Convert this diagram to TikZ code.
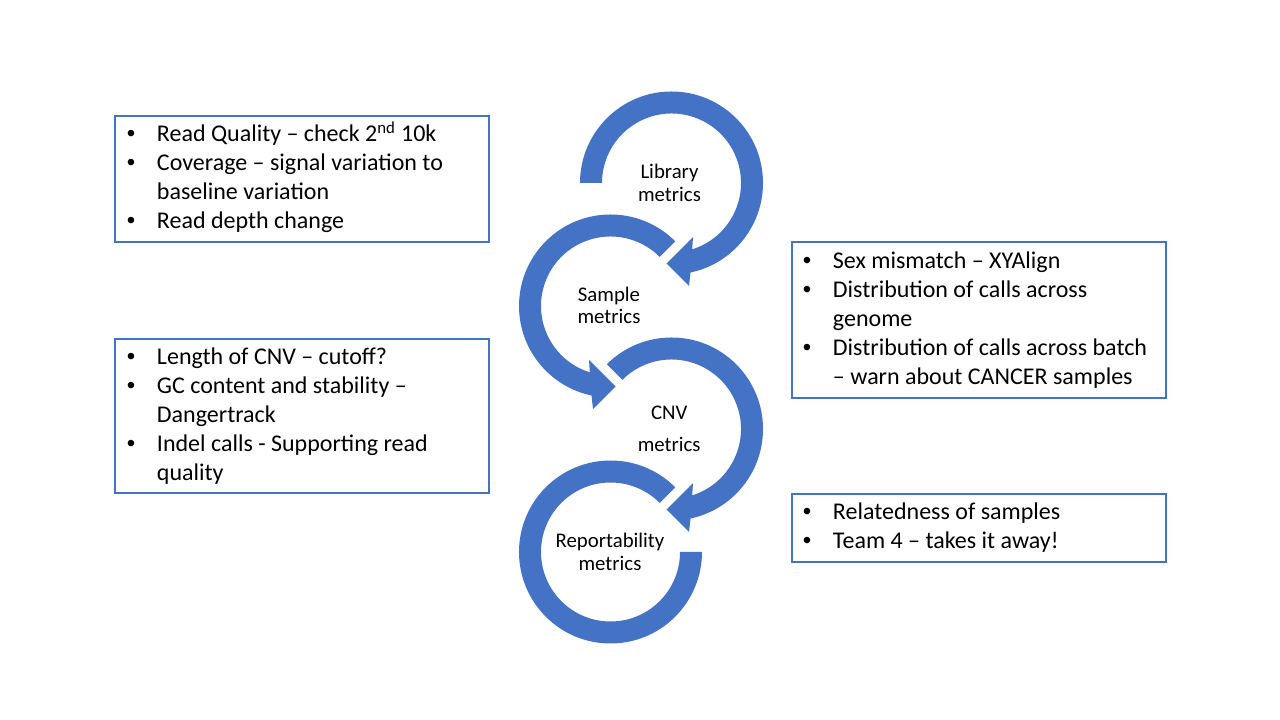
\documentclass[tikz,border=0pt]{standalone}
\usepackage{fontspec}
\setmainfont{Carlito}
\newfontfamily\bulletfont{Liberation Sans}
\definecolor{accent}{HTML}{4472C4}
\newcommand{\bul}{\makebox[0pt][c]{\bulletfont •}\hspace{19.5pt}}
\newcommand{\cont}{\hspace{19.5pt}}
\begin{document}
\begin{tikzpicture}[x=0.75pt,y=0.75pt,
  panel/.style={draw=accent, line width=1.5pt, fill=white, rectangle, inner sep=0pt},
  bodytext/.style={anchor=base west, inner sep=0pt, font=\fontsize{18}{21.75}\selectfont},
  ringlabel/.style={anchor=base, inner sep=0pt, align=center, font=\fontsize{15.6}{17}\selectfont},
  ring/.style={fill=accent}]
\useasboundingbox (0,0) rectangle (1280,720);
\fill[white] (0,0) rectangle (1280,720);

% ring centres
\coordinate (c1) at (671.5,537);
\coordinate (c2) at (610.5,414);
\coordinate (c3) at (671.5,291);
\coordinate (c4) at (610.5,168);

% arrow 1: Library metrics
\fill[ring] ([shift={(180:91.5)}]c1) arc[start angle=180, end angle=-78, radius=91.5]
  -- ([shift={(17.5,-103)}]c1) -- ([shift={(-5,-80.5)}]c1) -- ([shift={(21.5,-54)}]c1)
  -- ([shift={(-72.7:69.5)}]c1) arc[start angle=-72.7, end angle=180, radius=69.5] -- cycle;
% arrow 2: Sample metrics
\fill[ring] ([shift={(45:91.5)}]c2) arc[start angle=45, end angle=258, radius=91.5]
  -- ([shift={(-17.5,-103)}]c2) -- ([shift={(5,-80.5)}]c2) -- ([shift={(-21.5,-54)}]c2)
  -- ([shift={(252.7:69.5)}]c2) arc[start angle=252.7, end angle=45, radius=69.5] -- cycle;
% arrow 3: CNV metrics
\fill[ring] ([shift={(135:91.5)}]c3) arc[start angle=135, end angle=-78, radius=91.5]
  -- ([shift={(17.5,-103)}]c3) -- ([shift={(-5,-80.5)}]c3) -- ([shift={(21.5,-54)}]c3)
  -- ([shift={(-72.7:69.5)}]c3) arc[start angle=-72.7, end angle=135, radius=69.5] -- cycle;
% arrow 4: Reportability metrics
\fill[ring] ([shift={(45:91.5)}]c4) arc[start angle=45, end angle=360, radius=91.5]
  -- ([shift={(0:69.5)}]c4) arc[start angle=360, end angle=45, radius=69.5] -- cycle;

% ring labels
\node[ringlabel] (lib) at (669.5,541.2) {\begin{tabular}[t]{@{}c@{}}Library\\metrics\end{tabular}};
\node[ringlabel] (smp) at (609,418.8) {\begin{tabular}[t]{@{}c@{}}Sample\\metrics\end{tabular}};
\node[ringlabel] (cnv) at (669.2,300) {\begin{tabular}[t]{@{}c@{}}CNV\\[7pt]metrics\end{tabular}};
\node[ringlabel] (rep) at (610,172.2) {\begin{tabular}[t]{@{}c@{}}Reportability\\metrics\end{tabular}};

% panels
\node[panel, minimum width=280.5pt, minimum height=94.5pt] (box1) at (302,541) {};
\node[panel, minimum width=280.5pt, minimum height=115.5pt] (box2) at (302,304) {};
\node[panel, minimum width=280.5pt, minimum height=117pt] (box3) at (979,400) {};
\node[panel, minimum width=280.5pt, minimum height=51pt] (box4) at (979,192) {};

% panel texts
\node[bodytext] (t1) at (130.7,578.3) {\begin{tabular}[t]{@{}l@{}}
\bul Read Quality – check 2\textsuperscript{nd} 10k\\
\bul Coverage – signal variation to\\
\cont baseline variation\\
\bul Read depth change
\end{tabular}};
\node[bodytext] (t2) at (130.7,355) {\begin{tabular}[t]{@{}l@{}}
\bul Length of CNV – cutoff?\\
\bul GC content and stability –\\
\cont Dangertrack\\
\bul Indel calls - Supporting read\\
\cont quality
\end{tabular}};
\node[bodytext] (t3) at (806.7,451.7) {\begin{tabular}[t]{@{}l@{}}
\bul Sex mismatch – XYAlign\\
\bul Distribution of calls across\\
\cont genome\\
\bul Distribution of calls across batch\\
\cont – warn about CANCER samples
\end{tabular}};
\node[bodytext] (t4) at (806.7,200) {\begin{tabular}[t]{@{}l@{}}
\bul Relatedness of samples\\
\bul Team 4 – takes it away!
\end{tabular}};
\end{tikzpicture}
\end{document}
